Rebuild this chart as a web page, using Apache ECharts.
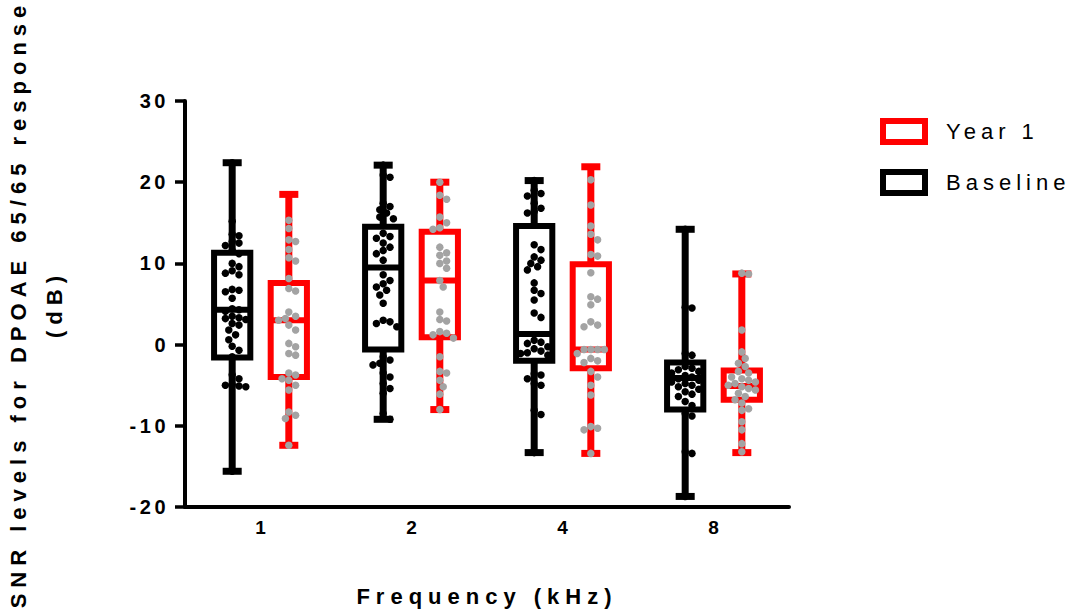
<!DOCTYPE html>
<html>
<head>
<meta charset="utf-8">
<script src="https://cdn.jsdelivr.net/npm/echarts@6/dist/echarts.min.js"></script>
<style>
  html, body { margin: 0; padding: 0; background: #fff; }
  #chart { width: 1069px; height: 613px; }
  #chart text[style*="22px"][style*="bold"] { letter-spacing: 6px; }
  #chart text[style*="22px"]:not([style*="bold"]) { letter-spacing: 5px; }
  #chart text[style*="20px"] { letter-spacing: 3.5px; }
</style>
</head>
<body>
<div id="chart"></div>
<script>
// ---------- data ----------
const categories = ['1', '2', '4', '8'];
const yTicks = { min: -20, max: 30, interval: 10 };

// box stats: [min, Q1, median, Q3, max]
const baselineBox = [
  [-15.6, -1.6, 4.3, 11.3, 22.4],
  [-9.2, -0.6, 9.5, 14.5, 22.1],
  [-13.3, -2.0, 1.3, 14.6, 20.2],
  [-18.7, -8.0, -4.1, -2.2, 14.2]
];
const year1Box = [
  [-12.4, -4.0, 3.0, 7.6, 18.5],
  [-8.0, 0.9, 7.9, 13.9, 20.0],
  [-13.4, -2.9, -0.6, 9.9, 21.9],
  [-13.3, -6.8, -5.1, -3.2, 8.7]
];

// individual points
const baselinePts1 = [22.4, 15.2, 13.6, 13.4, 12.7, 12.5, 12.2, 11.6, 11.2, 10.0, 9.6, 9.1, 8.8, 8.6, 6.8, 6.7, 6.5, 5.7, 4.4, 4.3, 4.1, 3.5, 3.3, 3.2, 3.1, 2.6, 2.4, 1.8, 1.2, 0.6, -0.2, -0.7, -1.5, -3.7, -4.2, -4.9, -5.0, -5.2, -5.1, -15.6];
const baselinePts2 = [22.1, 20.9, 20.6, 17.4, 17.0, 16.6, 16.2, 15.7, 15.5, 13.7, 13.3, 13.1, 12.5, 12.0, 11.6, 11.2, 10.4, 8.6, 7.9, 7.5, 7.1, 6.7, 6.1, 5.1, 3.0, 2.8, 2.6, 2.2, -1.5, -1.9, -2.3, -2.5, -3.5, -4.0, -4.8, -5.4, -6.0, -8.5, -9.2];
const baselinePts4 = [20.2, 19.0, 18.6, 18.3, 17.4, 16.8, 16.4, 16.2, 12.3, 11.7, 10.8, 10.4, 10.0, 9.6, 9.2, 7.6, 6.7, 6.3, 5.5, 3.9, 3.35, 0.55, 0.3, 0.15, -0.27, -0.5, -0.8, -1.0, -1.1, -1.3, -3.6, -3.75, -4.2, -4.8, -5.0, -8.1, -8.6, -13.3];
const baselinePts8 = [14.2, 4.6, 4.5, -1.1, -1.3, -2.7, -2.9, -3.1, -3.3, -3.5, -3.8, -4.0, -4.2, -4.4, -4.6, -4.8, -5.0, -5.2, -5.5, -5.8, -6.1, -6.4, -7.0, -7.5, -8.5, -8.8, -13.2, -13.4, -18.7];

const year1Pts1 = [15.3, 14.3, 12.9, 12.7, 11.7, 10.7, 10.3, 8.15, 6.9, 6.6, 4.0, 3.5, 3.2, 3.0, 2.4, 1.8, 0.15, -0.27, -1.1, -1.3, -3.5, -3.75, -4.2, -4.4, -5.0, -5.6, -8.3, -8.7, -9.1, -12.4];
const year1Pts2 = [20.0, 18.4, 17.9, 15.7, 15.0, 14.4, 14.2, 12.0, 11.3, 11.0, 10.3, 10.0, 9.4, 7.9, 7.1, 4.0, 3.1, 2.9, 1.6, 1.4, 1.2, 0.8, -1.5, -3.3, -3.5, -4.4, -5.2, -6.1, -8.0];
const year1Pts4 = [20.3, 17.2, 14.6, 13.6, 12.9, 11.1, 10.9, 8.85, 5.9, 5.6, 4.9, 2.8, 2.4, 2.2, -0.6, -0.6, -0.6, -0.6, -1.1, -1.7, -2.0, -2.2, -3.3, -4.0, -5.0, -6.2, -10.1, -10.3, -10.5, -13.4];
const year1Pts8 = [8.7, 8.8, 1.8, -0.9, -1.7, -2.3, -2.7, -3.3, -3.5, -4.0, -4.2, -4.4, -4.6, -4.8, -5.0, -5.2, -5.4, -5.6, -6.0, -6.4, -6.8, -7.2, -7.9, -8.1, -9.5, -10.5, -12.2, -13.2];

const baselinePts = [baselinePts1, baselinePts2, baselinePts4, baselinePts8];
const year1Pts = [year1Pts1, year1Pts2, year1Pts4, year1Pts8];

// ---------- styling / layout ----------
const FONT = 'Liberation Sans';
const RED = '#ff0000', BLACK = '#000000', GRAY = '#a3a3a3';
const OFFSET_FRAC = 0.1875;   // box centre offset, fraction of band width
const BOX_FRAC = 0.24;
const CAP_FRAC = 0.126;
const PT_SIZE = 7.5;

function boxRenderer(color, sign) {
  return function (params, api) {
    const c = api.value(0);
    const bw = api.size([1, 0])[0];
    const cx = api.coord([c, 0])[0] + sign * OFFSET_FRAC * bw;
    const y = i => api.coord([c, api.value(i)])[1];
    const boxW = BOX_FRAC * bw, capW = CAP_FRAC * bw;
    const yMin = y(1), yQ1 = y(2), yMed = y(3), yQ3 = y(4), yMax = y(5);
    return {
      type: 'group',
      children: [
        { type: 'line', shape: { x1: cx, y1: yMin, x2: cx, y2: yMax }, style: { stroke: color, lineWidth: 7 } },
        { type: 'line', shape: { x1: cx - capW / 2, y1: yMin, x2: cx + capW / 2, y2: yMin }, style: { stroke: color, lineWidth: 7 } },
        { type: 'line', shape: { x1: cx - capW / 2, y1: yMax, x2: cx + capW / 2, y2: yMax }, style: { stroke: color, lineWidth: 7 } },
        { type: 'rect', shape: { x: cx - boxW / 2, y: yQ3, width: boxW, height: yQ1 - yQ3 }, style: { fill: '#fff', stroke: color, lineWidth: 6 } },
        { type: 'line', shape: { x1: cx - boxW / 2, y1: yMed, x2: cx + boxW / 2, y2: yMed }, style: { stroke: color, lineWidth: 6 } }
      ]
    };
  };
}

function boxData(stats) {
  return stats.map((s, i) => [i, s[0], s[1], s[2], s[3], s[4]]);
}

function pointData(groups, offsets) {
  const out = [];
  groups.forEach((vals, ci) => {
    vals.forEach((v, k) => {
      out.push({ value: [ci, v], symbolOffset: [offsets ? offsets[ci][k] : 0, 0] });
    });
  });
  return out;
}

const chart = echarts.init(document.getElementById('chart'), null, { renderer: 'svg' });

const option = {
  animation: false,
  backgroundColor: '#fff',
  grid: { left: 185, right: 280, top: 101, bottom: 106, containLabel: false, outerBoundsMode: 'none' },
  legend: {
    orient: 'vertical', left: 880, top: 118, padding: 0,
    itemWidth: 42, itemHeight: 21, itemGap: 24,
    icon: 'rect', selectedMode: false,
    data: [
      { name: 'Year 1', itemStyle: { color: '#fff', borderColor: RED, borderWidth: 6 } },
      { name: 'Baseline', itemStyle: { color: '#fff', borderColor: BLACK, borderWidth: 6 } }
    ],
    textStyle: { fontSize: 22, fontFamily: FONT, color: '#000', padding: [0, 0, 0, 16] }
  },
  xAxis: {
    type: 'category', data: categories, boundaryGap: true,
    name: 'Frequency (kHz)', nameLocation: 'middle', nameGap: 78, nameMoveOverlap: false,
    nameTextStyle: { fontSize: 22, fontWeight: 'bold', fontFamily: FONT, color: '#000' },
    axisLine: { onZero: false, lineStyle: { color: '#000', width: 4 } },
    axisTick: { alignWithLabel: true, length: 10, lineStyle: { color: '#000', width: 3.5 } },
    axisLabel: { fontSize: 19, fontWeight: 'bold', fontFamily: FONT, color: '#000', margin: 11 },
    splitLine: { show: false }
  },
  yAxis: {
    type: 'value', min: yTicks.min, max: yTicks.max, interval: yTicks.interval,
    name: 'SNR levels for DPOAE 65/65 response\n(dB)', nameLocation: 'middle', nameGap: 113, nameMoveOverlap: false,
    nameTextStyle: { fontSize: 22, fontWeight: 'bold', fontFamily: FONT, color: '#000', lineHeight: 36 },
    axisLine: { show: true, onZero: false, lineStyle: { color: '#000', width: 4 } },
    axisTick: { show: true, length: 10, lineStyle: { color: '#000', width: 3.5 } },
    axisLabel: { fontSize: 20, fontWeight: 'bold', fontFamily: FONT, color: '#000', margin: 16 },
    splitLine: { show: false }
  },
  series: [
    {
      id: 'baselineBox', name: 'Baseline', type: 'custom', z: 2,
      itemStyle: { color: '#fff', borderColor: BLACK, borderWidth: 6 },
      renderItem: boxRenderer(BLACK, -1),
      encode: { x: 0, y: [1, 2, 3, 4, 5] },
      data: boxData(baselineBox)
    },
    {
      id: 'year1Box', name: 'Year 1', type: 'custom', z: 2,
      itemStyle: { color: '#fff', borderColor: RED, borderWidth: 6 },
      renderItem: boxRenderer(RED, 1),
      encode: { x: 0, y: [1, 2, 3, 4, 5] },
      data: boxData(year1Box)
    },
    {
      id: 'baselinePts', name: 'Baseline points', type: 'scatter', z: 4,
      symbol: 'circle', symbolSize: PT_SIZE, itemStyle: { color: BLACK, opacity: 1 },
      data: pointData(baselinePts, null)
    },
    {
      id: 'year1Pts', name: 'Year 1 points', type: 'scatter', z: 4,
      symbol: 'circle', symbolSize: PT_SIZE, itemStyle: { color: GRAY, opacity: 1 },
      data: pointData(year1Pts, null)
    }
  ]
};

chart.setOption(option);

// ---------- column-scatter (beeswarm) layout in pixel space ----------
function swarm(ys, d) {
  const order = ys.map((_, i) => i).sort((a, b) => ys[a] - ys[b]);
  const placed = [];
  const off = new Array(ys.length).fill(0);
  order.forEach(i => {
    const y = ys[i];
    const near = placed.filter(p => Math.abs(p.y - y) < d);
    for (let k = 0; k < 60; k++) {
      const cand = (k % 2 === 1 ? 1 : -1) * Math.ceil(k / 2) * d * 0.5;
      if (near.every(p => (p.x - cand) * (p.x - cand) + (p.y - y) * (p.y - y) >= d * d)) {
        off[i] = cand;
        break;
      }
    }
    placed.push({ x: off[i], y: y });
  });
  return off;
}

const x0 = chart.convertToPixel({ xAxisIndex: 0 }, 0);
const x1 = chart.convertToPixel({ xAxisIndex: 0 }, 1);
const band = Math.abs(x1 - x0);
function offsetsFor(groups, sign) {
  return groups.map(vals => {
    const ys = vals.map(v => chart.convertToPixel({ yAxisIndex: 0 }, v));
    const sw = swarm(ys, 6.8);
    return sw.map(s => sign * OFFSET_FRAC * band + s);
  });
}

chart.setOption({
  series: [
    { id: 'baselinePts', data: pointData(baselinePts, offsetsFor(baselinePts, -1)) },
    { id: 'year1Pts', data: pointData(year1Pts, offsetsFor(year1Pts, 1)) }
  ]
});
</script>
</body>
</html>
